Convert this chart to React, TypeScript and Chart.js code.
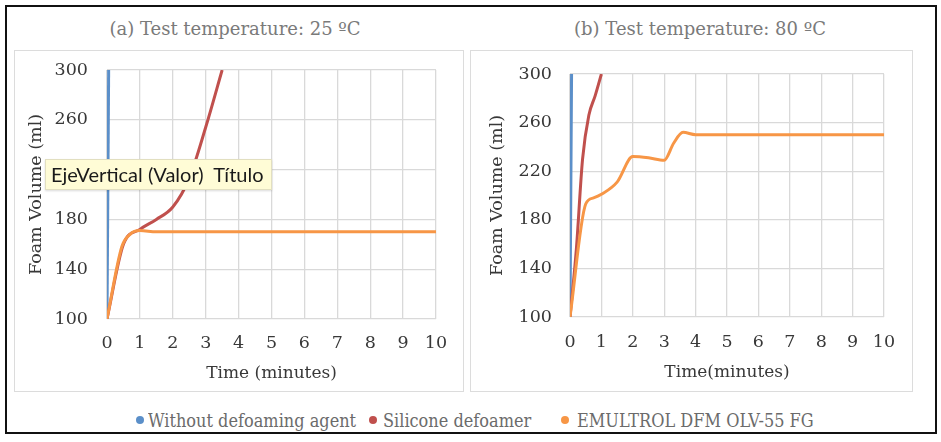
import { useEffect, useRef } from "react";
import { Chart, registerables } from "chart.js";

Chart.register(...registerables);

// (a) 25 ºC
const blueTimeA = [0, 0.05];
const blueVolA = [100, 300];
const redTimeA = [0, 0.5, 1, 1.5, 2, 2.5, 3, 3.5];
const redVolA = [100, 160, 172, 180, 190, 213, 254, 300];
const orangeTimeA = [0, 0.45, 0.7, 1, 1.5, 2, 3, 4, 5, 6, 7, 8, 9, 10];
const orangeVolA = [100, 158, 168, 171, 170, 170, 170, 170, 170, 170, 170, 170, 170, 170];

// (b) 80 ºC
const blueTimeB = [0, 0.05];
const blueVolB = [100, 300];
const redTimeB = [0, 0.2, 0.4, 0.6, 0.8, 1];
const redVolB = [100, 155, 230, 266, 282, 300];
const orangeTimeB = [0, 0.5, 0.75, 1, 1.5, 2, 2.5, 3, 3.3, 3.6, 4, 5, 6, 7, 8, 9, 10];
const orangeVolB = [100, 193, 198, 201, 211, 232, 231, 229, 243, 252, 250, 250, 250, 250, 250, 250, 250];

const seriesNames = ["Without defoaming agent", "Silicone defoamer", "EMULTROL DFM OLV-55 FG"];
const seriesColors = ["#5b8fc9", "#c0504d", "#f79646"];

const serif = "'DejaVu Serif', serif";

function pts(xs: number[], ys: number[]) {
  return xs.map((x, i) => ({ x, y: ys[i] }));
}

// no extra room for the end tick labels: the plot box is fixed by padding + axis sizes
function noPad(s: any) {
  s.paddingTop = 0;
  s.paddingBottom = 0;
  s.paddingLeft = 0;
  s.paddingRight = 0;
}

type PanelProps = {
  left: number;
  top: number;
  width: number;
  height: number;
  xTitle: string;
  series: { xs: number[]; ys: number[] }[];
  pad: { top: number; right: number };
  yWidth: number;
  xHeight: number;
  yTickPad: number;
  yTitlePad: number;
  xTickPad: number;
  xTitlePad: number;
};

function Panel(p: PanelProps) {
  const ref = useRef<HTMLCanvasElement>(null);

  useEffect(() => {
    if (!ref.current) return;
    // orange drawn on top, then red, then blue
    const datasets = p.series
      .map((s, i) => ({
        label: seriesNames[i],
        data: pts(s.xs, s.ys),
        showLine: true,
        borderColor: seriesColors[i],
        backgroundColor: seriesColors[i],
        borderWidth: 3,
        pointRadius: 0,
        cubicInterpolationMode: "monotone" as const,
      }))
      .reverse();

    const chart = new Chart(ref.current, {
      type: "scatter",
      data: { datasets },
      options: {
        animation: false,
        responsive: false,
        layout: { autoPadding: false, padding: { top: p.pad.top, right: p.pad.right, left: 0, bottom: 0 } },
        plugins: { legend: { display: false }, tooltip: { enabled: false } },
        scales: {
          x: {
            type: "linear",
            min: 0,
            max: 10,
            afterFit: (s: any) => {
              s.height = p.xHeight;
              noPad(s);
            },
            ticks: { stepSize: 1, padding: p.xTickPad, color: "#383838", font: { family: serif, size: 17.5 } },
            grid: { color: "#d9d9d9", lineWidth: 1.3, drawTicks: false },
            border: { display: false },
            title: {
              display: true,
              text: p.xTitle,
              color: "#383838",
              font: { family: serif, size: 17 },
              padding: { top: 0, bottom: p.xTitlePad },
            },
          },
          y: {
            min: 100,
            max: 300,
            afterFit: (s: any) => {
              s.width = p.yWidth;
              noPad(s);
            },
            ticks: { stepSize: 40, padding: p.yTickPad, color: "#383838", font: { family: serif, size: 17.5 } },
            grid: { color: "#d9d9d9", lineWidth: 1.3, drawTicks: false },
            border: { display: false },
            title: {
              display: true,
              text: "Foam Volume (ml)",
              color: "#383838",
              font: { family: serif, size: 17.5 },
              padding: { top: p.yTitlePad, bottom: 0 },
            },
          },
        },
      },
    });

    return () => chart.destroy();
  }, []);

  return (
    <div
      style={{
        position: "absolute",
        left: p.left,
        top: p.top,
        width: p.width,
        height: p.height,
        boxSizing: "border-box",
        border: "1.5px solid #dcdcdc",
      }}
    >
      <canvas ref={ref} width={p.width - 3} height={p.height - 3} style={{ display: "block" }} />
    </div>
  );
}

export default function App() {
  const titleStyle: React.CSSProperties = {
    position: "absolute",
    top: 18,
    transform: "translateX(-50%)",
    whiteSpace: "nowrap",
    fontFamily: serif,
    fontSize: 18,
    color: "#7a7a7a",
  };

  return (
    <div style={{ position: "fixed", left: 0, top: 0, width: 941, height: 442, background: "#fff", overflow: "hidden" }}>
      <div
        style={{
          position: "absolute",
          left: 5,
          top: 5,
          width: 932,
          height: 429,
          boxSizing: "border-box",
          border: "2px solid #111",
        }}
      />
      <div style={{ ...titleStyle, left: 235 }}>(a) Test temperature: 25 ºC</div>
      <div style={{ ...titleStyle, left: 700 }}>(b) Test temperature: 80 ºC</div>

      <Panel
        left={14}
        top={50}
        width={450}
        height={342}
        xTitle="Time (minutes)"
        series={[
          { xs: blueTimeA, ys: blueVolA },
          { xs: redTimeA, ys: redVolA },
          { xs: orangeTimeA, ys: orangeVolA },
        ]}
        pad={{ top: 19, right: 26 }}
        yWidth={92}
        xHeight={71}
        yTickPad={19}
        yTitlePad={11}
        xTickPad={14}
        xTitlePad={6}
      />
      <Panel
        left={470}
        top={50}
        width={443}
        height={342}
        xTitle="Time(minutes)"
        series={[
          { xs: blueTimeB, ys: blueVolB },
          { xs: redTimeB, ys: redVolB },
          { xs: orangeTimeB, ys: orangeVolB },
        ]}
        pad={{ top: 23, right: 27 }}
        yWidth={99}
        xHeight={73}
        yTickPad={18}
        yTitlePad={16}
        xTickPad={15}
        xTitlePad={7}
      />

      {/* tooltip left over from the spreadsheet */}
      <div
        style={{
          position: "absolute",
          left: 45,
          top: 159,
          width: 227,
          height: 31,
          boxSizing: "border-box",
          background: "#fffcd6",
          border: "1px solid #e2dfc0",
          boxShadow: "0 1px 2px rgba(0,0,0,0.15)",
          fontFamily: "Lato, sans-serif",
          fontSize: 20,
          lineHeight: "29px",
          paddingLeft: 5,
          color: "#1a1a1a",
          whiteSpace: "pre",
        }}
      >
        EjeVertical (Valor)  Título
      </div>

      {/* legend */}
      {[
        { dot: 140, text: 148 },
        { dot: 373, text: 383 },
        { dot: 565, text: 577 },
      ].map((l, i) => (
        <div key={i}>
          <div
            style={{
              position: "absolute",
              left: l.dot - 4,
              top: 416,
              width: 8,
              height: 8,
              borderRadius: "50%",
              background: seriesColors[i],
            }}
          />
          <div
            style={{
              position: "absolute",
              left: l.text,
              top: 408,
              fontFamily: serif,
              fontSize: 19,
              lineHeight: "24px",
              color: "#6b6b6b",
              whiteSpace: "nowrap",
              transform: "scaleX(0.85)",
              transformOrigin: "left center",
            }}
          >
            {seriesNames[i]}
          </div>
        </div>
      ))}
    </div>
  );
}
